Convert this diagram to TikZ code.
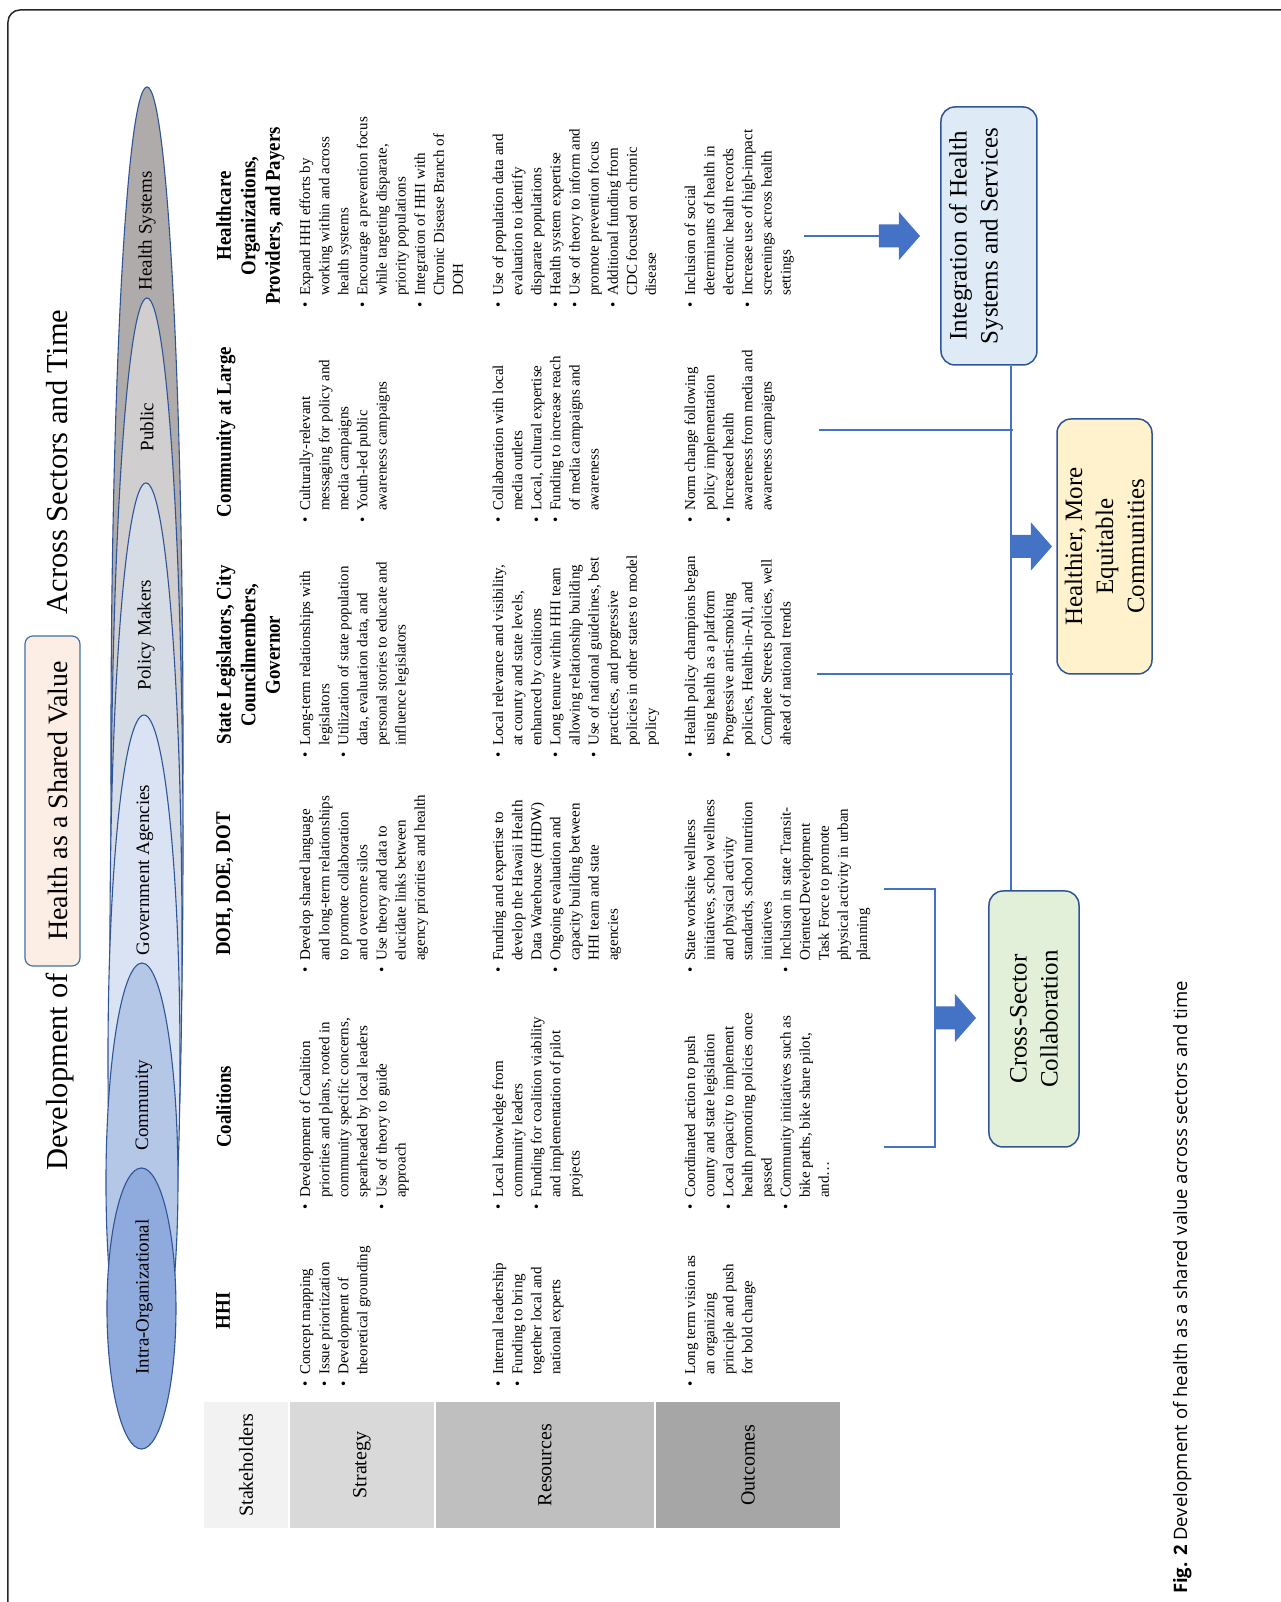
\documentclass[tikz,border=0pt]{standalone}
\usepackage{fontspec}
\setmainfont{Liberation Serif}
\newfontfamily\hdfont[FakeStretch=0.9]{Liberation Serif}
\newfontfamily\capfont{Open Sans}
\usepackage{tikz}
\usetikzlibrary{shapes.geometric}

\definecolor{linkblue}{HTML}{4472C4}
\definecolor{edgeblue}{HTML}{2F5597}
\definecolor{titleedge}{HTML}{41719C}
\definecolor{titlefill}{HTML}{FCEEE5}
\definecolor{intrablue}{HTML}{8FAADC}
\definecolor{comblue}{HTML}{B4C7E7}
\definecolor{govblue}{HTML}{DAE3F3}
\definecolor{polgray}{HTML}{D6DCE5}
\definecolor{pubgray}{HTML}{D0CECE}
\definecolor{hsgray}{HTML}{AFABAB}
\definecolor{stakegray}{HTML}{F2F2F2}
\definecolor{stratgray}{HTML}{D9D9D9}
\definecolor{resgray}{HTML}{BFBFBF}
\definecolor{outgray}{HTML}{A6A6A6}
\definecolor{integfill}{HTML}{DEEBF7}
\definecolor{healthyfill}{HTML}{FFF2CC}
\definecolor{crossfill}{HTML}{E2F0D9}

% bullet and continuation indent
\newcommand{\bu}{\strut\makebox[12pt][l]{\textbullet}}
\newcommand{\ct}{\hspace*{12pt}}

\begin{document}
\begin{tikzpicture}[x=1pt,y=1pt,rotate=90,transform shape,
  oval/.style={ellipse, draw=edgeblue, line width=1.1pt, inner sep=0pt, minimum height=72},
  ovaltext/.style={font=\fontsize{19}{22}\selectfont},
  rowcell/.style={inner sep=0pt, minimum width=126, font=\fontsize{20}{24}\selectfont},
  colhead/.style={anchor=north, align=center, inner sep=0pt, font=\hdfont\bfseries\fontsize{21}{24.5}\selectfont},
  bullets/.style={anchor=north west, align=left, inner sep=0pt, font=\fontsize{15}{19.1}\selectfont},
  outbox/.style={draw=edgeblue, line width=1.5pt, rounded corners=14, align=center, inner sep=0pt, font=\fontsize{25}{31}\selectfont},
  link/.style={linkblue, line width=2.5pt},
  bigarrow/.pic={\fill[linkblue] (0,-11.5) -- (20,-11.5) -- (20,-24) -- (41,0) -- (20,24) -- (20,11.5) -- (0,11.5) -- cycle;}
]
  \useasboundingbox (0,0) rectangle (1602,1281);
  % ── Frame ─────────────────────────────────────────
  \draw[line width=1.5pt, black!85, rounded corners=12] (0,1273) -- (1592,1273) -- (1592,0);

  % ── Title ─────────────────────────────────────────
  \node[draw=titleedge, fill=titlefill, line width=1.2pt, rounded corners=8, inner sep=0pt,
        minimum width=330, text height=43, text depth=12, anchor=base,
        font=\fontsize{28}{30}\selectfont] (shared) at (801,1213) {Health as a Shared Value};
  \node[anchor=base east, font=\fontsize{30.5}{33}\selectfont] (devof) at (632,1213) {Development of};
  \node[anchor=base west, font=\fontsize{30.5}{33}\selectfont] (across) at (984,1213) {Across Sectors and Time};

  % ── Sector ovals (back to front) ──────────────────
  \node[oval, fill=hsgray, minimum width=1315] (hsoval) at (857.5,1134) {};
  \node[oval, fill=pubgray, minimum width=1104] (puboval) at (752,1134) {};
  \node[oval, fill=polgray, minimum width=919] (poloval) at (659.5,1135) {};
  \node[oval, fill=govblue, minimum width=687] (govoval) at (543.5,1137) {};
  \node[oval, fill=comblue, minimum width=439] (comoval) at (419.5,1139) {};
  \node[oval, fill=intrablue, minimum width=281, minimum height=69] (intraoval) at (293.5,1139.5) {};
  \node[ovaltext] (intralbl) at (305,1137) {Intra-Organizational};
  \node[ovaltext] (comlbl) at (497,1137) {Community};
  \node[ovaltext] (govlbl) at (732,1136) {Government Agencies};
  \node[ovaltext] (pollbl) at (967,1135) {Policy Makers};
  \node[ovaltext] (publbl) at (1175,1134) {Public};
  \node[ovaltext] (hslbl) at (1371,1134) {Health Systems};

  % ── Row labels ────────────────────────────────────
  \node[rowcell, fill=stakegray, minimum height=84] (stake) at (137,1035) {Stakeholders};
  \node[rowcell, fill=stratgray, minimum height=144] (strat) at (137,919) {Strategy};
  \node[rowcell, fill=resgray, minimum height=218] (res) at (137,736) {Resources};
  \node[rowcell, fill=outgray, minimum height=184] (outc) at (137,533) {Outcomes};

  % ── Column heads ──────────────────────────────────
  \node[colhead] (hhi) at (291,1065) {HHI};
  \node[colhead] (coal) at (495,1065) {Coalitions};
  \node[colhead] (doh) at (718,1065) {DOH, DOE, DOT};
  \node[colhead] (legis) at (947,1065) {State Legislators, City\\Councilmembers,\\Governor};
  \node[colhead] (commu) at (1170,1065) {Community at Large};
  \node[colhead] (hcare) at (1386,1065) {Healthcare\\Organizations,\\Providers, and Payers};

  % ── HHI ───────────────────────────────────────────
  \node[bullets] (hhiS) at (215,984.4) {\bu Concept mapping\\\bu Issue prioritization\\\bu Development of\\\ct theoretical grounding};
  \node[bullets] (hhiR) at (215,791.4) {\bu Internal leadership\\\bu Funding to bring\\\ct together local and\\\ct national experts};
  \node[bullets] (hhiO) at (215,599.4) {\bu Long term vision as\\\ct an organizing\\\ct principle and push\\\ct for bold change};

  % ── Coalitions ────────────────────────────────────
  \node[bullets] (coalS) at (392,984.4) {\bu Development of Coalition\\\ct priorities and plans, rooted in\\\ct community specific concerns,\\\ct spearheaded by local leaders\\\bu Use of theory to guide\\\ct approach};
  \node[bullets] (coalR) at (392,791.4) {\bu Local knowledge from\\\ct community leaders\\\bu Funding for coalition viability\\\ct and implementation of pilot\\\ct projects};
  \node[bullets] (coalO) at (392,599.4) {\bu Coordinated action to push\\\ct county and state legislation\\\bu Local capacity to implement\\\ct health promoting policies once\\\ct passed\\\bu Community initiatives such as\\\ct bike paths, bike share pilot,\\\ct and…};

  % ── DOH, DOE, DOT ─────────────────────────────────
  \node[bullets] (dohS) at (629,984.4) {\bu Develop shared language\\\ct and long-term relationships\\\ct to promote collaboration\\\ct and overcome silos\\\bu Use theory and data to\\\ct elucidate links between\\\ct agency priorities and health};
  \node[bullets] (dohR) at (629,791.4) {\bu Funding and expertise to\\\ct develop the Hawaii Health\\\ct Data Warehouse (HHDW)\\\bu Ongoing evaluation and\\\ct capacity building between\\\ct HHI team and state\\\ct agencies};
  \node[bullets] (dohO) at (629,599.4) {\bu State worksite wellness\\\ct initiatives, school wellness\\\ct and physical activity\\\ct standards, school nutrition\\\ct initiatives\\\bu Inclusion in state Transit-\\\ct Oriented Development\\\ct Task Force to promote\\\ct physical activity in urban\\\ct planning};

  % ── State legislators ─────────────────────────────
  \node[bullets] (legS) at (844,984.4) {\bu Long-term relationships with\\\ct legislators\\\bu Utilization of state population\\\ct data, evaluation data, and\\\ct personal stories to educate and\\\ct influence legislators};
  \node[bullets] (legR) at (844,791.4) {\bu Local relevance and visibility,\\\ct at county and state levels,\\\ct enhanced by coalitions\\\bu Long tenure within HHI team\\\ct allowing relationship building\\\bu Use of national guidelines, best\\\ct practices, and progressive\\\ct policies in other states to model\\\ct policy};
  \node[bullets] (legO) at (844,599.4) {\bu Health policy champions began\\\ct using health as a platform\\\bu Progressive anti-smoking\\\ct policies, Health-in-All, and\\\ct Complete Streets policies, well\\\ct ahead of national trends};

  % ── Community at large ────────────────────────────
  \node[bullets] (comS) at (1079,984.4) {\bu Culturally-relevant\\\ct messaging for policy and\\\ct media campaigns\\\bu Youth-led public\\\ct awareness campaigns};
  \node[bullets] (comR) at (1079,791.4) {\bu Collaboration with local\\\ct media outlets\\\bu Local, cultural expertise\\\bu Funding to increase reach\\\ct of media campaigns and\\\ct awareness};
  \node[bullets] (comO) at (1079,599.4) {\bu Norm change following\\\ct policy implementation\\\bu Increased health\\\ct awareness from media and\\\ct awareness campaigns};

  % ── Healthcare ────────────────────────────────────
  \node[bullets] (hcS) at (1294,984.4) {\bu Expand HHI efforts by\\\ct working within and across\\\ct health systems\\\bu Encourage a prevention focus\\\ct while targeting disparate,\\\ct priority populations\\\bu Integration of HHI with\\\ct Chronic Disease Branch of\\\ct DOH};
  \node[bullets] (hcR) at (1294,791.4) {\bu Use of population data and\\\ct evaluation to identify\\\ct disparate populations\\\bu Health system expertise\\\bu Use of theory to inform and\\\ct promote prevention focus\\\bu Additional funding from\\\ct CDC focused on chronic\\\ct disease};
  \node[bullets] (hcO) at (1294,599.4) {\bu Inclusion of social\\\ct determinants of health in\\\ct electronic health records\\\bu Increase use of high-impact\\\ct screenings across health\\\ct settings};

  % ── Result boxes ──────────────────────────────────
  \node[outbox, fill=crossfill, minimum width=256, minimum height=90] (cross) at (583,247) {Cross-Sector\\Collaboration};
  \node[outbox, fill=healthyfill, minimum width=255, minimum height=95] (healthy) at (1055.5,176.5) {Healthier, More\\Equitable\\Communities};
  \node[outbox, fill=integfill, minimum width=258, minimum height=96] (integ) at (1366,292) {};
  \node[align=center, inner sep=0pt, font=\fontsize{25}{31}\selectfont] (integtxt) at (1366,305) {Integration of Health\\Systems and Services};

  % ── Connectors ────────────────────────────────────
  \coordinate (brbot) at (455,397);
  \coordinate (brtop) at (713,397);
  \coordinate (brbar) at (0,346);
  \draw[link] (brbot) -- (brbot |- brbar) -- (brtop |- brbar) -- (brtop);
  \pic[rotate=-90] at (584,346) {bigarrow};
  % bus from cross-sector to integration
  \coordinate (bus) at (0,270);
  \draw[link] (cross.east |- bus) -- (integ.west |- bus);
  \coordinate (legtap) at (928,464);
  \coordinate (commtap) at (1172,462);
  \draw[link] (legtap) -- ([yshift=-2pt]legtap |- bus);
  \draw[link] (commtap) -- ([yshift=-2pt]commtap |- bus);
  \pic[rotate=-90] at (healthy.north |- bus) {bigarrow};
  % healthcare into integration
  \coordinate (hctap) at (1366,477);
  \coordinate (hcarrow) at (1366,402);
  \draw[link] (hctap) -- (hcarrow);
  \pic[rotate=-90] at (hcarrow) {bigarrow};

  % ── Caption ───────────────────────────────────────
  \node[anchor=base west, inner sep=0pt, font=\capfont\fontsize{18.5}{21}\selectfont] (caption) at (8,94)
    {\textbf{Fig. 2} Development of health as a shared value across sectors and time};
\end{tikzpicture}
\end{document}
